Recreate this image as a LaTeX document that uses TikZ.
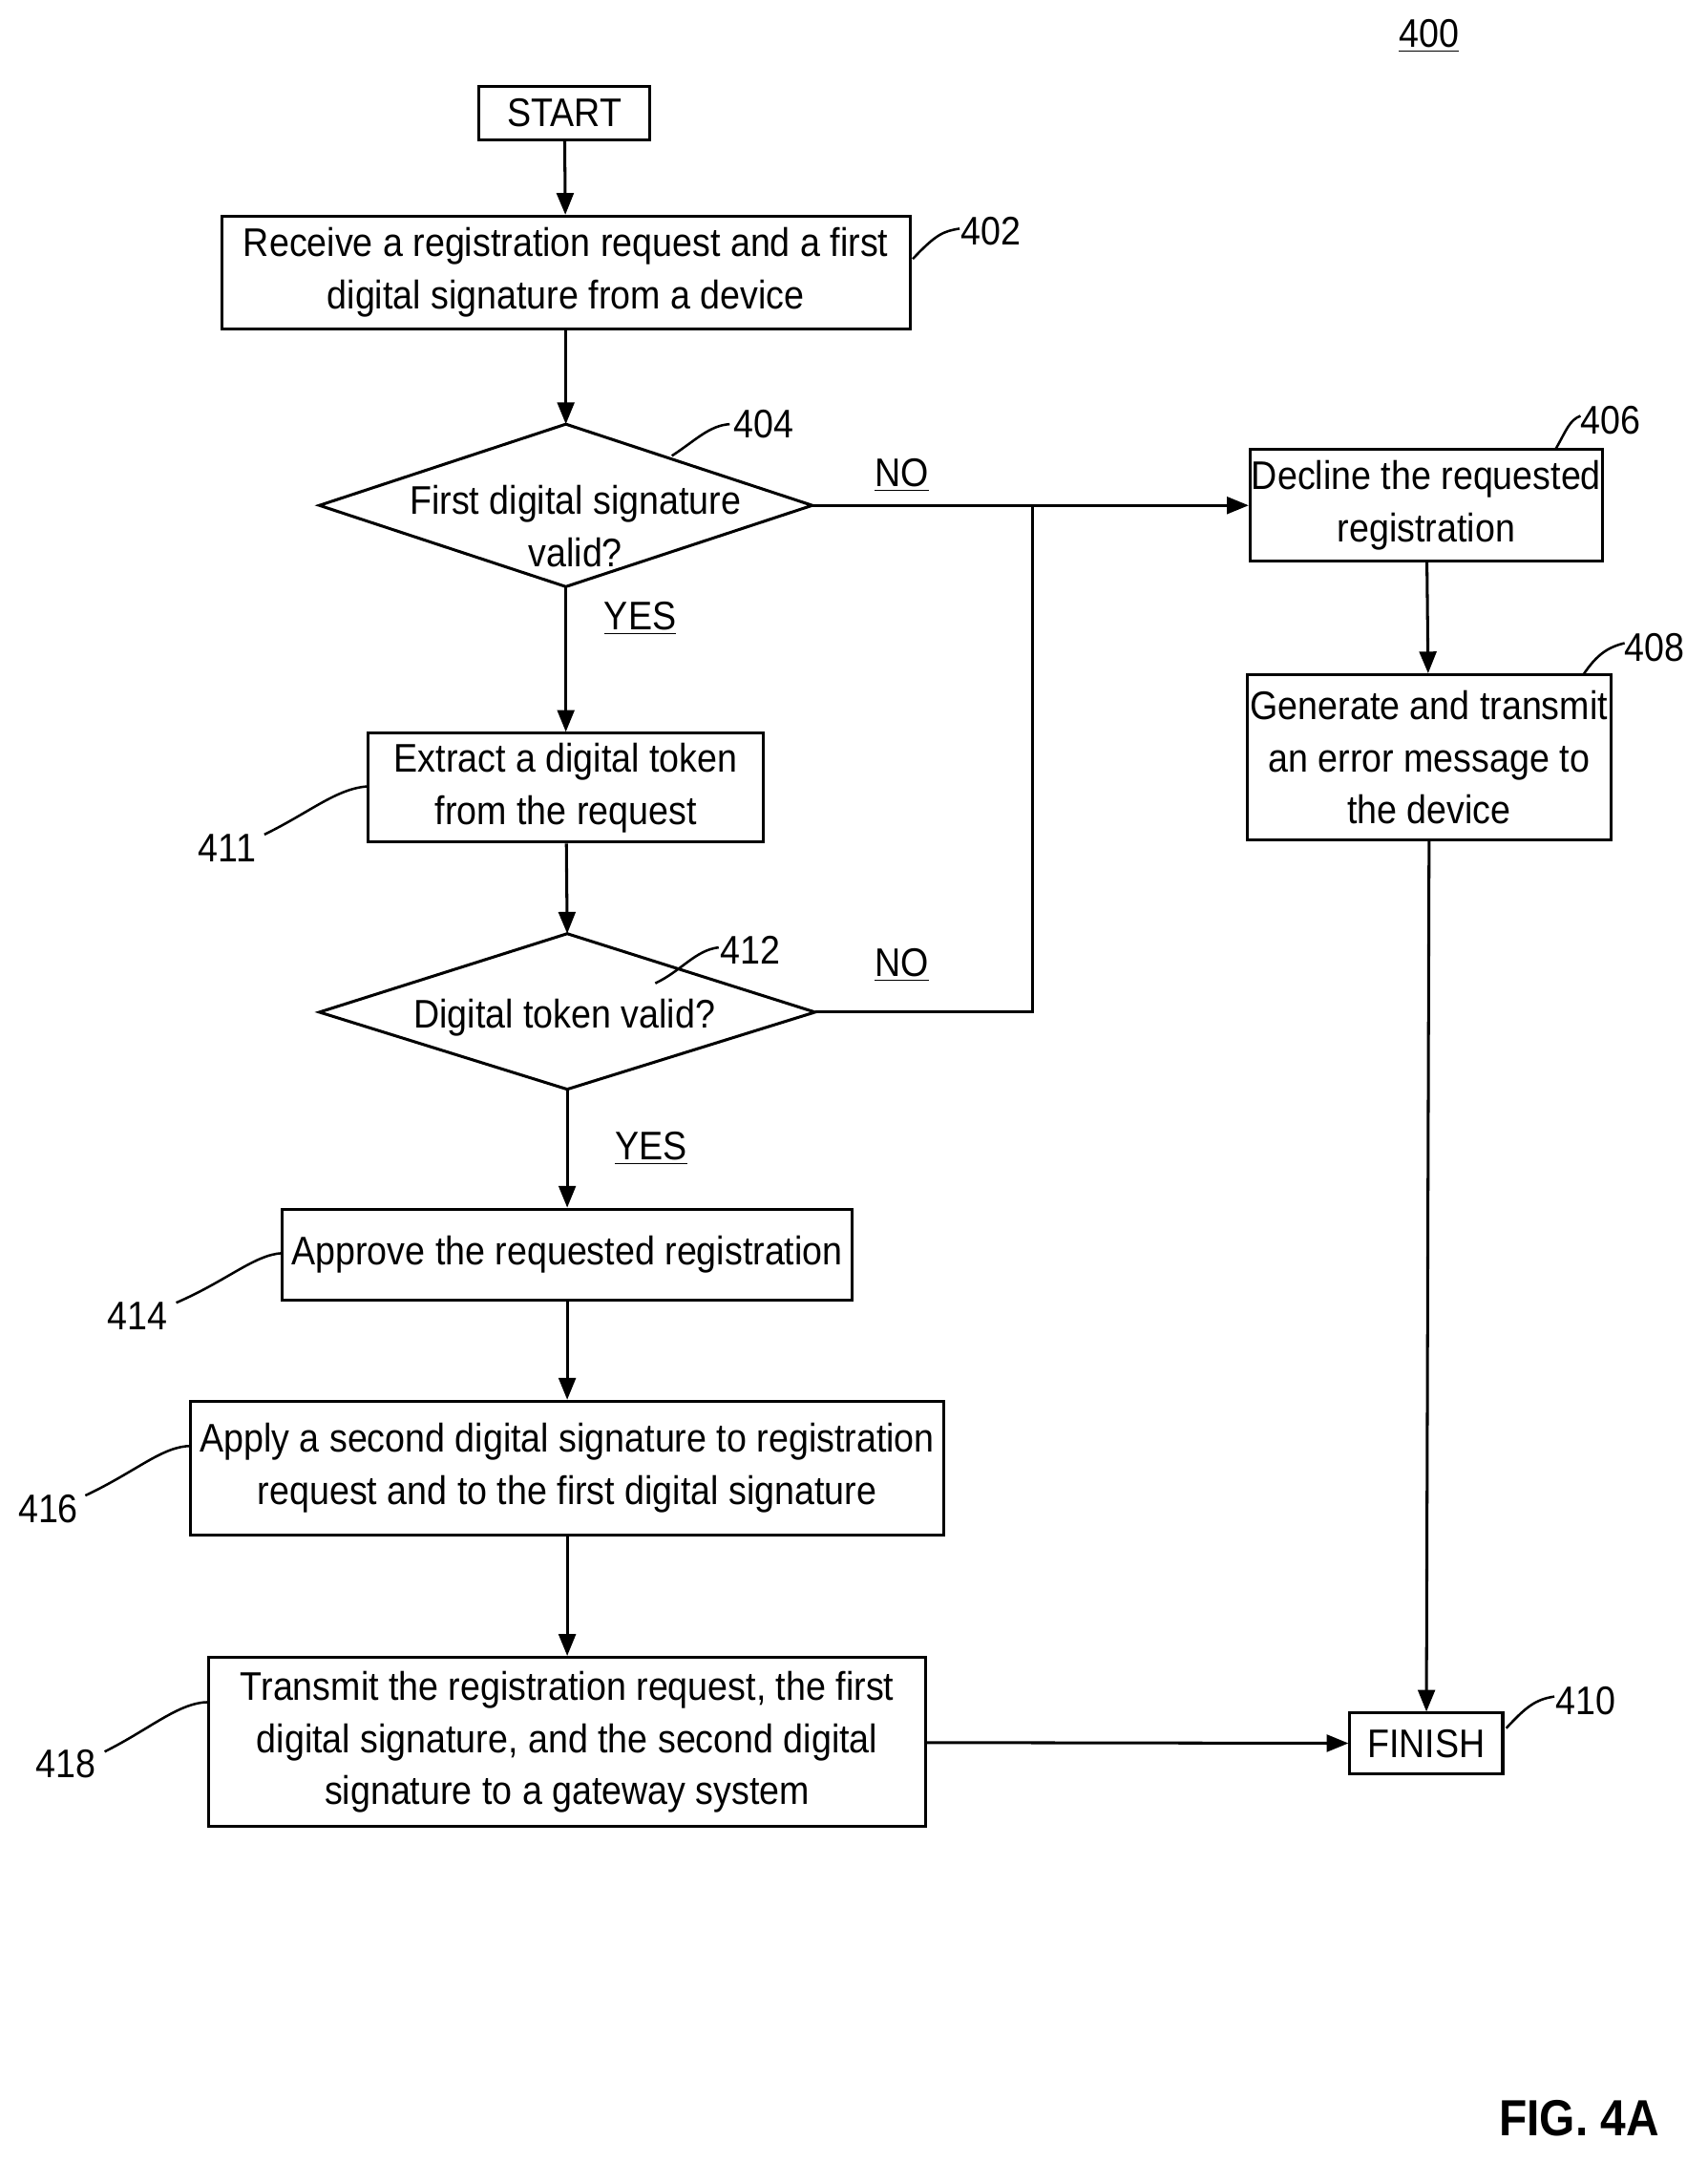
\documentclass[tikz,border=0pt]{standalone}
\usepackage{fontspec}
\setmainfont{Liberation Sans}[FakeStretch=0.9]
\usetikzlibrary{arrows.meta}
\begin{document}
\begin{tikzpicture}[x=0.02cm,y=-0.02cm,
  every node/.style={font=\fontsize{16.5}{21.6}\selectfont},
  box/.style={draw,line width=1.2pt,align=center,inner sep=0pt},
  arr/.style={line width=1.2pt,-{Triangle[length=9pt,width=7pt]}},
  ln/.style={line width=1.2pt},
  lead/.style={line width=1pt}]
\useasboundingbox (0,0) rectangle (1240,1570);
\node[box,minimum width=2.48cm,minimum height=0.78cm] (start) at (410,82) {START};
\node[box,minimum width=10cm,minimum height=1.64cm] (n402) at (411,198) {Receive a registration request and a first\\digital signature from a device};
\coordinate (d1t) at (411,308);
\coordinate (d1r) at (590,367);
\coordinate (d1b) at (411,426);
\draw[ln] (232,367) -- (d1t) -- (d1r) -- (d1b) -- cycle;
\node[align=center] (t404) at (418,382) {First digital signature\\valid?};
\coordinate (d2t) at (412,678);
\coordinate (d2r) at (592,735);
\coordinate (d2b) at (412,791);
\draw[ln] (232,735) -- (d2t) -- (d2r) -- (d2b) -- cycle;
\node (t412) at (410,739) {Digital token valid?};
\node[box,minimum width=5.74cm,minimum height=1.58cm] (n411) at (411,572) {Extract a digital token\\from the request};
\node[box,minimum width=8.28cm,minimum height=1.32cm] (n414) at (412,911) {Approve the requested registration};
\node[box,minimum width=10.94cm,minimum height=1.94cm] (n416) at (412,1066) {Apply a second digital signature to registration\\request and to the first digital signature};
\node[box,minimum width=10.42cm,minimum height=2.46cm] (n418) at (412,1265) {Transmit the registration request, the first\\digital signature, and the second digital\\signature to a gateway system};
\node[box,minimum width=5.12cm,minimum height=1.62cm] (n406) at (1036,367) {Decline the requested\\registration};
\node[box,minimum width=5.28cm,minimum height=2.4cm] (n408) at (1038,550) {Generate and transmit\\an error message to\\the device};
\node[box,minimum width=2.22cm,minimum height=0.88cm] (fin) at (1036,1266) {FINISH};
\coordinate (j1) at (750,367);
\coordinate (j2) at (750,735);
\draw[arr] (start) -- (n402);
\draw[arr] (n402) -- (d1t);
\draw[arr] (d1b) -- (n411);
\draw[arr] (n411) -- (d2t);
\draw[arr] (d2b) -- (n414);
\draw[arr] (n414) -- (n416);
\draw[arr] (n416) -- (n418);
\draw[arr] (n418) -- (fin);
\draw[arr] (d1r) -- (n406);
\draw[ln] (d2r) -- (j2) -- (j1);
\draw[arr] (n406) -- (n408);
\draw[arr] (n408.south) -- (fin);
\node at (655,345) {\underline{NO}};
\node at (655,701) {\underline{NO}};
\node at (465,449) {\underline{YES}};
\node at (473,834) {\underline{YES}};
\node at (1038,26) {\underline{400}};
\node[font=\bfseries\fontsize{21}{24}\selectfont] at (1147,1538) {FIG. 4A};
\node (r402) at (720,168) {402};
\draw[lead] (663,188) .. controls (680,170) and (685,168) .. (697,166);
\node (r404) at (555,308) {404};
\draw[lead] (488,331) .. controls (505,320) and (515,309) .. (530,308);
\node (r406) at (1170,305) {406};
\draw[lead] (1130,326) .. controls (1138,312) and (1140,305) .. (1148,302);
\node (r408) at (1202,470) {408};
\draw[lead] (1150,490) .. controls (1160,475) and (1168,470) .. (1180,467);
\node (r410) at (1152,1235) {410};
\draw[lead] (1094,1255) .. controls (1108,1240) and (1115,1234) .. (1129,1232);
\node (r411) at (165,616) {411};
\draw[lead] (192,606) .. controls (225,590) and (245,572) .. (268,571);
\node (r412) at (545,690) {412};
\draw[lead] (476,714) .. controls (495,705) and (505,690) .. (522,688);
\node (r414) at (100,956) {414};
\draw[lead] (128,946) .. controls (165,930) and (185,911) .. (205,910);
\node (r416) at (35,1096) {416};
\draw[lead] (62,1086) .. controls (100,1068) and (118,1050) .. (139,1050);
\node (r418) at (48,1281) {418};
\draw[lead] (76,1272) .. controls (110,1255) and (130,1236) .. (152,1236);
\end{tikzpicture}
\end{document}
